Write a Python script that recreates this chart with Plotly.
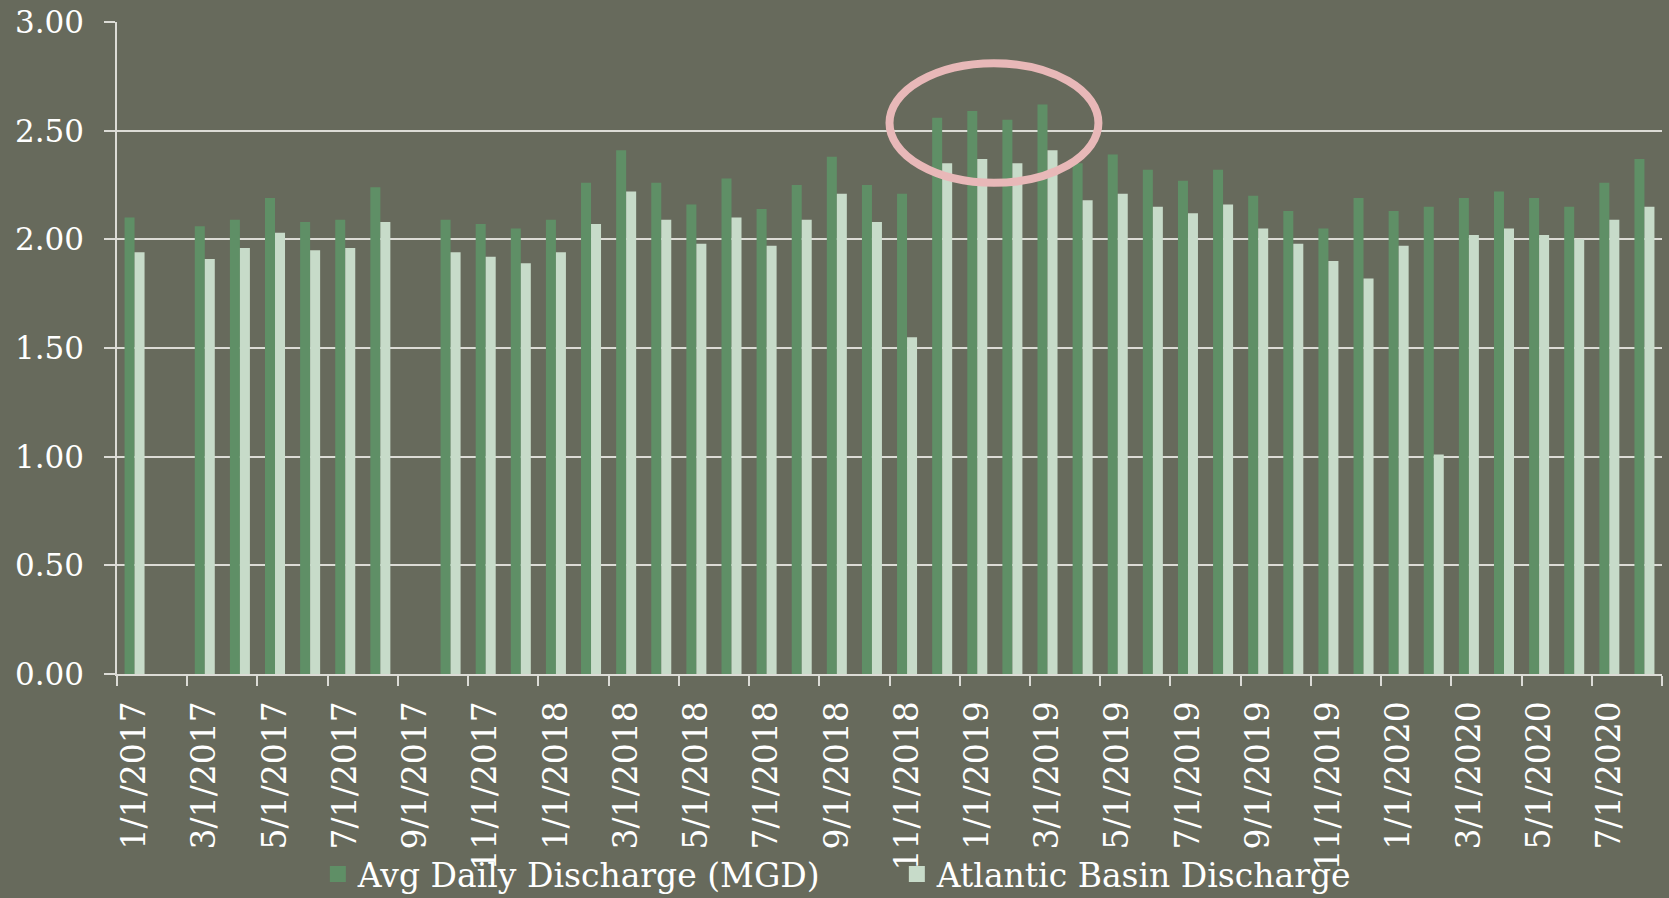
import plotly.graph_objects as go

months = [
    "1/1/2017", "2/1/2017", "3/1/2017", "4/1/2017", "5/1/2017", "6/1/2017",
    "7/1/2017", "8/1/2017", "9/1/2017", "10/1/2017", "11/1/2017", "12/1/2017",
    "1/1/2018", "2/1/2018", "3/1/2018", "4/1/2018", "5/1/2018", "6/1/2018",
    "7/1/2018", "8/1/2018", "9/1/2018", "10/1/2018", "11/1/2018", "12/1/2018",
    "1/1/2019", "2/1/2019", "3/1/2019", "4/1/2019", "5/1/2019", "6/1/2019",
    "7/1/2019", "8/1/2019", "9/1/2019", "10/1/2019", "11/1/2019", "12/1/2019",
    "1/1/2020", "2/1/2020", "3/1/2020", "4/1/2020", "5/1/2020", "6/1/2020",
    "7/1/2020", "8/1/2020",
]

avg_daily = [
    2.10, None, 2.06, 2.09, 2.19, 2.08, 2.09, 2.24, None, 2.09, 2.07, 2.05,
    2.09, 2.26, 2.41, 2.26, 2.16, 2.28, 2.14, 2.25, 2.38, 2.25, 2.21, 2.56,
    2.59, 2.55, 2.62, 2.35, 2.39, 2.32, 2.27, 2.32, 2.20, 2.13, 2.05, 2.19,
    2.13, 2.15, 2.19, 2.22, 2.19, 2.15, 2.26, 2.37,
]

atlantic = [
    1.94, None, 1.91, 1.96, 2.03, 1.95, 1.96, 2.08, None, 1.94, 1.92, 1.89,
    1.94, 2.07, 2.22, 2.09, 1.98, 2.10, 1.97, 2.09, 2.21, 2.08, 1.55, 2.35,
    2.37, 2.35, 2.41, 2.18, 2.21, 2.15, 2.12, 2.16, 2.05, 1.98, 1.90, 1.82,
    1.97, 1.01, 2.02, 2.05, 2.02, 2.00, 2.09, 2.15,
]

series_names = ["Avg Daily Discharge (MGD)", "Atlantic Basin Discharge"]
y_ticks = [0, 0.5, 1.0, 1.5, 2.0, 2.5, 3.0]

BG = "#676a5c"
DARK = "#5f8f66"
LIGHT = "#c7dbc9"
GRID = "#dcdcd6"
FONT = "DejaVu Serif"
colors = [DARK, LIGHT]

fig = go.Figure()
for name, vals, col in zip(series_names, [avg_daily, atlantic], colors):
    fig.add_trace(go.Bar(x=months, y=vals, name=name, showlegend=False,
                         legendgroup=name,
                         marker=dict(color=col, line=dict(width=0))))
# legend entries with larger square swatches
for name, col in zip(series_names, colors):
    fig.add_trace(go.Scatter(x=[None], y=[None], mode="markers", name=name,
                             legendgroup=name,
                             marker=dict(symbol="square", size=18, color=col)))

# highlight ellipse around the winter 2018-19 peak
fig.add_shape(type="circle", xref="x", yref="y",
              x0=21.5, x1=27.45, y0=2.26, y1=2.81,
              line=dict(color="#e8b8b8", width=8), layer="above")

fig.update_layout(
    width=1669, height=898,
    paper_bgcolor=BG, plot_bgcolor=BG,
    margin=dict(l=117, r=7, t=22, b=224, autoexpand=False),
    barmode="group", bargap=0.43, bargroupgap=0,
    font=dict(family=FONT, color="#ffffff"),
    showlegend=True,
    legend=dict(orientation="h", x=0.13, xanchor="left", y=-0.307, yanchor="middle",
                font=dict(family=FONT, size=33, color="#ffffff"),
                bgcolor="rgba(0,0,0,0)", entrywidth=534, entrywidthmode="pixels",
                traceorder="normal"),
)

fig.update_xaxes(
    type="category", tickmode="linear", tick0=0, dtick=2,
    tickangle=-90, tickfont=dict(family=FONT, size=33, color="#ffffff"),
    ticks="outside", ticklen=10, tickwidth=1.5, tickcolor=GRID,
    tickson="boundaries", ticklabelstandoff=12,
    showline=True, linecolor=GRID, linewidth=2,
    showgrid=False, range=[-0.5, 43.5],
)

fig.update_yaxes(
    range=[0, 3.0], tickmode="array", tickvals=y_ticks,
    tickformat=".2f", tickfont=dict(family=FONT, size=31, color="#ffffff"),
    ticks="outside", ticklen=11, tickwidth=1.5, tickcolor=GRID,
    ticklabelstandoff=14,
    showline=True, linecolor=GRID, linewidth=1.5,
    showgrid=True, gridcolor=GRID, gridwidth=2,
    zeroline=False,
)

fig.write_html(
    "out.html",
    config={"displayModeBar": False},
    post_script="document.body.style.margin='0';document.body.style.background='#676a5c';document.body.style.overflow='hidden';",
)
